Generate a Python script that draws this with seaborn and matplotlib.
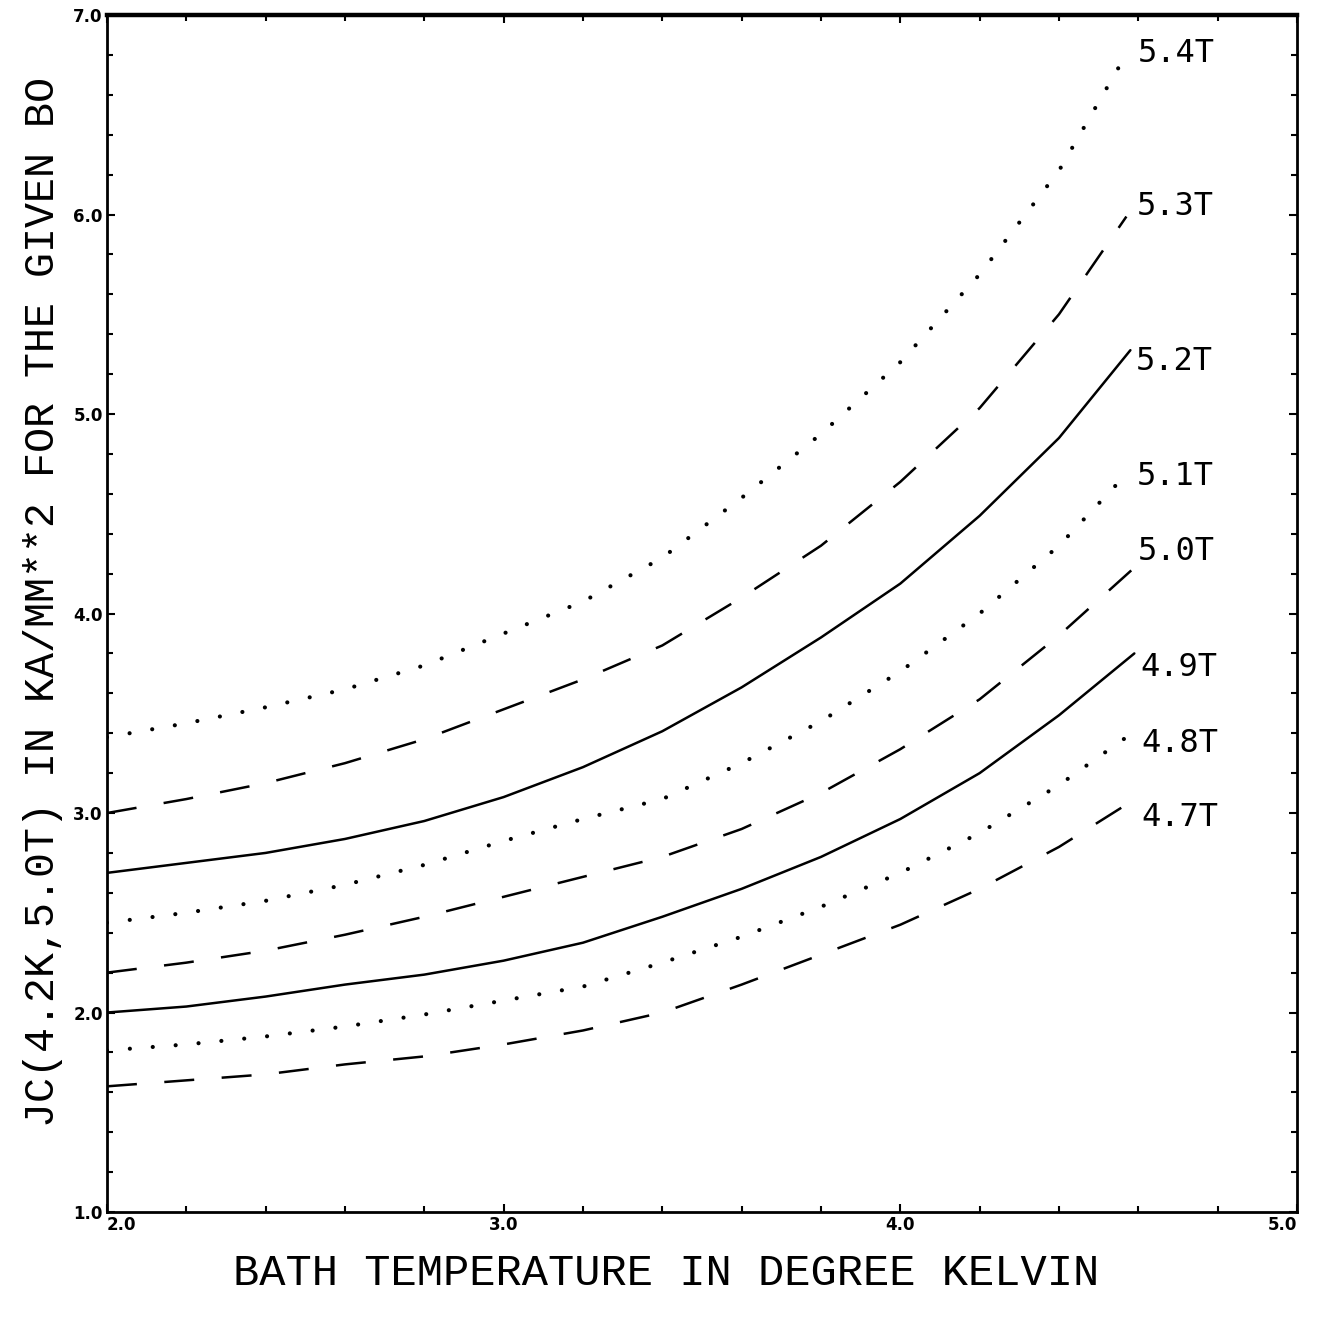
import numpy as np
import pandas as pd
import matplotlib
matplotlib.use("Agg")
import matplotlib.pyplot as plt
from matplotlib.ticker import MultipleLocator, FormatStrFormatter
import seaborn as sns

# ---------------------------
# Data (JC vs bath temperature, one curve per field)
# ---------------------------
temps = [2.0, 2.2, 2.4, 2.6, 2.8, 3.0, 3.2, 3.4, 3.6, 3.8, 4.0, 4.2, 4.4]

jc_54 = [3.38, 3.45, 3.53, 3.62, 3.74, 3.90, 4.06, 4.28, 4.58, 4.90, 5.26, 5.70, 6.22]
jc_53 = [3.00, 3.07, 3.15, 3.25, 3.37, 3.52, 3.67, 3.84, 4.08, 4.34, 4.66, 5.03, 5.50]
jc_52 = [2.70, 2.75, 2.80, 2.87, 2.96, 3.08, 3.23, 3.41, 3.63, 3.88, 4.15, 4.49, 4.88]
jc_51 = [2.45, 2.50, 2.56, 2.64, 2.74, 2.86, 2.97, 3.07, 3.25, 3.46, 3.71, 4.00, 4.34]
jc_50 = [2.20, 2.25, 2.31, 2.39, 2.48, 2.58, 2.68, 2.78, 2.92, 3.10, 3.32, 3.57, 3.89]
jc_49 = [2.00, 2.03, 2.08, 2.14, 2.19, 2.26, 2.35, 2.48, 2.62, 2.78, 2.97, 3.20, 3.49]
jc_48 = [1.81, 1.84, 1.88, 1.93, 1.99, 2.06, 2.13, 2.25, 2.38, 2.53, 2.70, 2.90, 3.14]
jc_47 = [1.63, 1.66, 1.69, 1.74, 1.78, 1.84, 1.91, 2.00, 2.14, 2.29, 2.44, 2.62, 2.83]

# last point of each curve (curves stop a little past 4.5 K)
end_t = [4.56, 4.57, 4.58, 4.58, 4.59, 4.59, 4.57, 4.60]
end_jc = [6.77, 5.99, 5.32, 4.72, 4.23, 3.80, 3.38, 3.08]

fields = ["5.4T", "5.3T", "5.2T", "5.1T", "5.0T", "4.9T", "4.8T", "4.7T"]
styles = ["dot", "dash", "solid", "dot", "dash", "solid", "dot", "dash"]
all_jc = [jc_54, jc_53, jc_52, jc_51, jc_50, jc_49, jc_48, jc_47]

# label nudges (points) relative to the curve end
label_dx = [11, 7.5, 4, 4.5, 2.5, 4, 11, 2.5]
label_dy = [5.6, 7, -8, -4.5, 11.4, -10, -4.5, -14.5]

rows = []
for f, jc, te, je in zip(fields, all_jc, end_t, end_jc):
    for t, j in zip(temps + [te], jc + [je]):
        rows.append({"field": f, "T": t, "Jc": j})
df = pd.DataFrame(rows)

# ---------------------------
# Plot
# ---------------------------
sns.set_style("ticks")
plt.rcParams["font.family"] = ["DejaVu Sans"]
plt.rcParams["text.color"] = "black"
plt.rcParams["axes.labelcolor"] = "black"
plt.rcParams["xtick.color"] = "black"
plt.rcParams["ytick.color"] = "black"

fig = plt.figure(figsize=(13.32, 13.21), dpi=100)
ax = fig.add_axes([0.0803, 0.0825, 0.8934, 0.9061])

line_kw = {
    "solid": dict(linestyle="-", linewidth=1.8),
    "dash": dict(linestyle=(0, (12, 11)), linewidth=1.8),
    "dot": dict(linestyle=(0, (0.01, 5.5)), linewidth=3.0, dash_capstyle="round"),
}

for f, st, dx, dy in zip(fields, styles, label_dx, label_dy):
    sub = df[df["field"] == f]
    sns.lineplot(data=sub, x="T", y="Jc", ax=ax, color="black", sort=False,
                 estimator=None, legend=False, **line_kw[st])
    ax.annotate(f, xy=(sub["T"].iloc[-1], sub["Jc"].iloc[-1]), xytext=(dx, dy),
                textcoords="offset points", ha="left", va="center",
                fontsize=23, family="DejaVu Sans Mono", color="black")

ax.set_xlim(2.0, 5.0)
ax.set_ylim(1.0, 7.0)
ax.xaxis.set_major_locator(MultipleLocator(1.0))
ax.yaxis.set_major_locator(MultipleLocator(1.0))
ax.xaxis.set_minor_locator(MultipleLocator(0.2))
ax.yaxis.set_minor_locator(MultipleLocator(0.2))
ax.xaxis.set_major_formatter(FormatStrFormatter("%.1f"))
ax.yaxis.set_major_formatter(FormatStrFormatter("%.1f"))
ax.tick_params(which="both", direction="in", top=True, right=True,
               color="black", width=1.5)
ax.tick_params(which="major", length=6, labelsize=12, pad=3)
ax.tick_params(which="minor", length=4)
fig.canvas.draw()
for tk in ax.xaxis.get_major_ticks() + ax.yaxis.get_major_ticks():
    tk.label1.set_fontweight("bold")
# the first and last x labels sit inside the frame, as in the plot
for tk in ax.xaxis.get_major_ticks():
    if abs(tk.get_loc() - 2.0) < 1e-6:
        tk.label1.set_horizontalalignment("left")
    elif abs(tk.get_loc() - 5.0) < 1e-6:
        tk.label1.set_horizontalalignment("right")

for side in ["left", "right", "bottom"]:
    ax.spines[side].set_linewidth(2.0)
ax.spines["top"].set_linewidth(3.2)
for side in ax.spines:
    ax.spines[side].set_color("black")

ax.set_xlabel("BATH TEMPERATURE IN DEGREE KELVIN", fontsize=31.5,
              family="Liberation Mono")
ax.set_ylabel("JC(4.2K,5.0T) IN KA/MM**2 FOR THE GIVEN BO", fontsize=30,
              family="Liberation Mono")
ax.xaxis.set_label_coords(0.47, -0.034)
ax.yaxis.set_label_coords(-0.037, 0.51)

fig.savefig("out.png", dpi=100, facecolor="white")
